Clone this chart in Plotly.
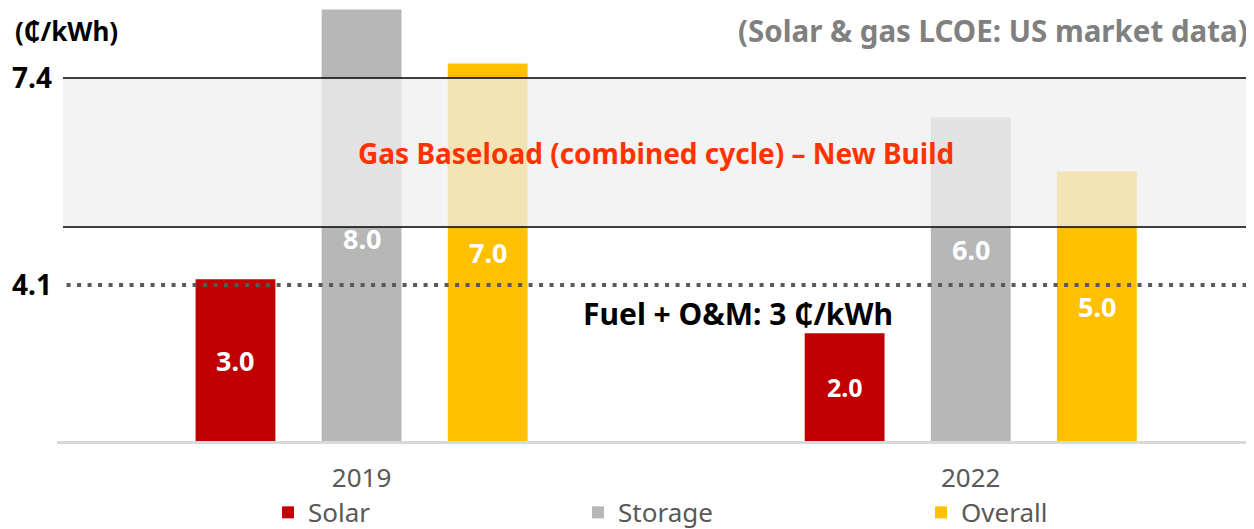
import plotly.graph_objects as go

years = ["2019", "2022"]
series = ["Solar", "Storage", "Overall"]
solar = [3.0, 2.0]
storage = [8.0, 6.0]
overall = [7.0, 5.0]
colors = {"Solar": "#c00000", "Storage": "#b6b7b6", "Overall": "#ffc000"}

# reference marks (labelled values and where they sit on the drawn scale)
gas_low_label, gas_high_label = "4.1", "7.4"
gas_band = [3.967, 6.73]
fuel_line = 2.894

FONT = "Noto Sans"

fig = go.Figure()
values = {"Solar": solar, "Storage": storage, "Overall": overall}
legend_ids = {"Solar": "legend", "Storage": "legend2", "Overall": "legend3"}
for s in series:
    fig.add_trace(go.Bar(
        x=years, y=values[s], name=s, legend=legend_ids[s],
        marker=dict(color=colors[s], line=dict(width=0)),
    ))

# value labels inside the bars
label_y = {"Solar": [v / 2 for v in solar],
           "Storage": [3.75, 3.55],
           "Overall": [v / 2 for v in overall]}
offsets = {"Solar": -0.207, "Storage": 0.0, "Overall": 0.207}
annotations = []
for s in series:
    for i, v in enumerate(values[s]):
        annotations.append(dict(
            x=i + offsets[s], y=label_y[s][i], xref="x", yref="y",
            text="<b>%.1f</b>" % v, showarrow=False,
            font=dict(family=FONT, size=27 if (s != "Solar" or i == 0) else 25, color="white"),
        ))

annotations += [
    dict(x=0.5, y=sum(gas_band) / 2, xref="paper", yref="y",
         text="<b>Gas Baseload (combined cycle) – New Build</b>", showarrow=False,
         font=dict(family=FONT, size=28, color="#ff3300")),
    dict(x=0.569, y=2.365, xref="paper", yref="y",
         text="<b>Fuel + O&M: 3 ₵/kWh</b>", showarrow=False,
         font=dict(family=FONT, size=30, color="black")),
    dict(x=-0.037, y=0.948, xref="paper", yref="paper", xanchor="left", yanchor="middle",
         text="<b>(₵/kWh)</b>", showarrow=False,
         font=dict(family=FONT, size=26, color="black")),
    dict(x=0.997, y=0.948, xref="paper", yref="paper", xanchor="right", yanchor="middle",
         text="<b>(Solar & gas LCOE: US market data)</b>", showarrow=False,
         font=dict(family=FONT, size=29.5, color="#808080")),
]

shapes = [
    dict(type="rect", xref="paper", yref="y", x0=0.005, x1=1, y0=gas_band[0], y1=gas_band[1],
         fillcolor="rgba(239,239,239,0.76)", line=dict(width=0), layer="above"),
    dict(type="line", xref="paper", yref="y", x0=0.005, x1=1, y0=gas_band[1], y1=gas_band[1],
         line=dict(color="black", width=1.5), layer="above"),
    dict(type="line", xref="paper", yref="y", x0=0.005, x1=1, y0=gas_band[0], y1=gas_band[0],
         line=dict(color="black", width=1.5), layer="above"),
    dict(type="line", xref="paper", yref="y", x0=0.008, x1=1, y0=fuel_line, y1=fuel_line,
         line=dict(color="#595959", width=4, dash="4px,6.5px"), layer="above"),
]

legend_common = dict(orientation="h", xanchor="left", y=-0.165, yanchor="middle",
                     bgcolor="rgba(0,0,0,0)",
                     font=dict(family=FONT, size=26, color="#595959"), itemwidth=30)

fig.update_layout(
    width=1246, height=521,
    margin=dict(l=49, r=0, t=0, b=88, autoexpand=False),
    paper_bgcolor="white", plot_bgcolor="white",
    barmode="group", bargap=0.379, bargroupgap=0.367,
    showlegend=True,
    legend=dict(x=0.1763, **legend_common),
    legend2=dict(x=0.4353, **legend_common),
    legend3=dict(x=0.7218, **legend_common),
    xaxis=dict(type="category", range=[-0.5, 1.465], showgrid=False,
               showline=True, linecolor="#d9d9d9", linewidth=3,
               ticks="", tickfont=dict(family=FONT, size=26, color="#595959"),
               ticklabelstandoff=12),
    yaxis=dict(range=[0, 8.03], showgrid=False, zeroline=False, showline=False,
               tickvals=[fuel_line, gas_band[1]], ticktext=[gas_low_label, gas_high_label],
               tickfont=dict(family=FONT, size=28, color="black", weight="bold"),
               ticks="", ticklabelstandoff=4),
    annotations=annotations,
    shapes=shapes,
    font=dict(family=FONT),
)

fig.write_html("out.html")
